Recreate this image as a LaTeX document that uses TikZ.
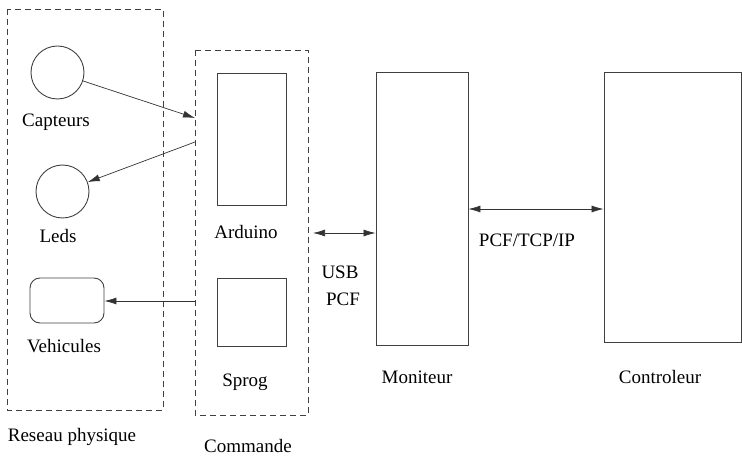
\documentclass[tikz,border=0pt]{standalone}
\usepackage{fontspec}
\setmainfont{Liberation Serif}
\usetikzlibrary{arrows.meta}
\begin{document}
\begin{tikzpicture}[
    x=1pt, y=-1pt,
    font=\fontsize{19}{22}\selectfont,
    group/.style={draw=black!75, line width=0.7pt, dash pattern=on 6pt off 4pt},
    block/.style={draw=black!75, line width=0.9pt},
    label/.style={anchor=center, inner sep=0pt},
    arrow/.style={-{Latex[length=12pt,width=7pt]}, draw=black!80, line width=0.7pt},
    biarrow/.style={{Latex[length=12pt,width=7pt]}-{Latex[length=12pt,width=7pt]}, draw=black!80, line width=0.7pt}
]
    \useasboundingbox (0,0) rectangle (742,462);

    % groups
    \draw[group] (7,9) rectangle (163,410);
    \draw[group] (195,50) rectangle (308,415);
    \node[label] (reseau) at (72,437) {Reseau physique};
    \node[label] (commande) at (248,446) {Commande};

    % reseau physique
    \node[block, circle, minimum size=53pt, inner sep=0pt] (capteurs) at (57.5,72.5) {};
    \node[label] (capteurslbl) at (56,122) {Capteurs};
    \node[block, circle, minimum size=53pt, inner sep=0pt] (leds) at (62.5,191.5) {};
    \node[label] (ledslbl) at (58,236) {Leds};
    \node[block, rectangle, rounded corners=10pt, minimum width=74pt, minimum height=45pt, inner sep=0pt] (vehicules) at (67,300.5) {};
    \node[label] (vehiculeslbl) at (64,346) {Vehicules};

    % commande
    \node[block, rectangle, minimum width=69pt, minimum height=132pt, inner sep=0pt] (arduino) at (251.5,139) {};
    \node[label] (arduinolbl) at (246,232) {Arduino};
    \node[block, rectangle, minimum width=69pt, minimum height=68pt, inner sep=0pt] (sprog) at (251.5,312) {};
    \node[label] (sproglbl) at (245,382) {Sprog};

    % moniteur, controleur
    \node[block, rectangle, minimum width=92pt, minimum height=273pt, inner sep=0pt] (moniteur) at (422,208.5) {};
    \node[label] (moniteurlbl) at (417,377) {Moniteur};
    \node[block, rectangle, minimum width=137pt, minimum height=270pt, inner sep=0pt] (controleur) at (672.5,207) {};
    \node[label] (controleurlbl) at (660,377) {Controleur};

    % connections
    \coordinate (cmdin) at (195,118);
    \coordinate (cmdleds) at (195,142);
    \coordinate (cmdveh) at (195,301);
    \coordinate (cmdusb) at (313,233);
    \draw[arrow] (capteurs) -- (cmdin);
    \draw[arrow] (cmdleds) -- (leds);
    \draw[arrow] (cmdveh) -- (vehicules.east |- cmdveh);
    \draw[biarrow] (cmdusb) -- (moniteur.west |- cmdusb);
    \node[label] (usb) at (340,272) {USB};
    \node[label] (pcf) at (343,299) {PCF};
    \draw[biarrow] (moniteur.east |- 0,209) -- (controleur.west |- 0,209);
    \node[label] (tcpip) at (527,240) {PCF/TCP/IP};
\end{tikzpicture}
\end{document}
